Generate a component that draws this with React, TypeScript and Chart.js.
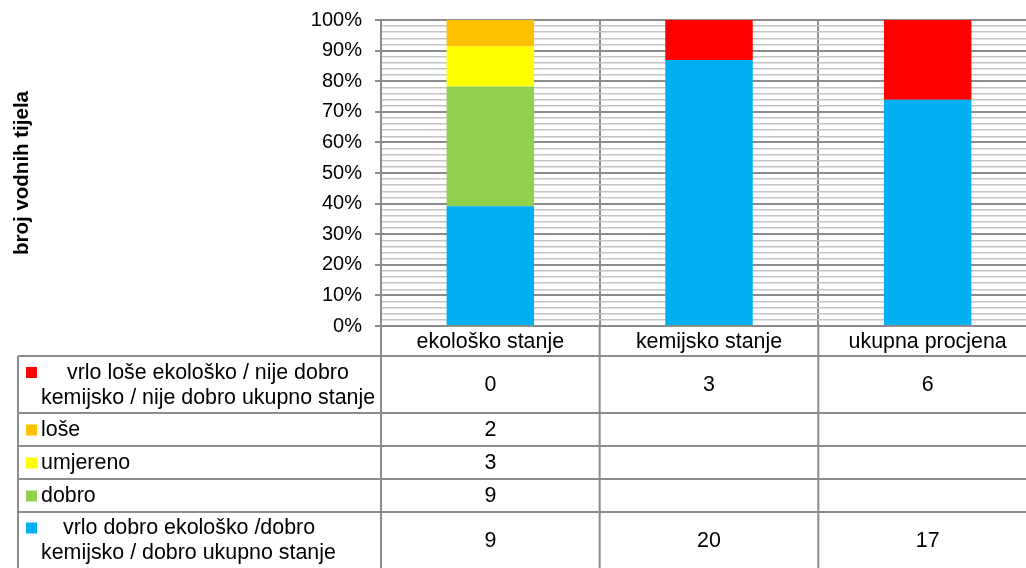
import React, { useEffect, useRef } from "react";
import { Chart, registerables } from "chart.js";

Chart.register(...registerables);

// ---------- data ----------
const categories = ["ekološko stanje", "kemijsko stanje", "ukupna procjena"];

const vrloDobroLabel = "vrlo dobro ekološko /dobro\nkemijsko / dobro ukupno stanje";
const dobroLabel = "dobro";
const umjerenoLabel = "umjereno";
const loseLabel = "loše";
const vrloLoseLabel = "vrlo loše ekološko / nije dobro\nkemijsko / nije dobro ukupno stanje";

const vrloDobro: (number | null)[] = [9, 20, 17];
const dobro: (number | null)[] = [9, null, null];
const umjereno: (number | null)[] = [3, null, null];
const lose: (number | null)[] = [2, null, null];
const vrloLose: (number | null)[] = [0, 3, 6];

const yAxisTitle = "broj vodnih tijela";
const yMajorTicks = [0, 10, 20, 30, 40, 50, 60, 70, 80, 90, 100];

// ---------- helpers ----------
const FONT = '"Liberation Sans", Arial, sans-serif';

const seriesBottomToTop = [
  { label: vrloDobroLabel, values: vrloDobro, color: "#00B0F0" },
  { label: dobroLabel, values: dobro, color: "#92D050" },
  { label: umjerenoLabel, values: umjereno, color: "#FFFF00" },
  { label: loseLabel, values: lose, color: "#FFC000" },
  { label: vrloLoseLabel, values: vrloLose, color: "#FF0000" },
];

const totals = categories.map((_, i) =>
  seriesBottomToTop.reduce((s, d) => s + (d.values[i] ?? 0), 0)
);

const GRID_MAJOR = "#8c8c8c";
const GRID_MINOR = "#c4c4c4";

// table rows (top to bottom) – layout heights
const tableRows = [...seriesBottomToTop].reverse();
const headerH = 30;
const rowHeights = [57, 33, 33, 33, 56];
const firstLineIndent = [26, 0, 0, 0, 22];

const tablePlugin = {
  id: "dataTable",
  afterDraw(chart: any) {
    const ctx: CanvasRenderingContext2D = chart.ctx;
    const xs = chart.scales.x;
    const area = chart.chartArea;
    const n = categories.length;
    const colW = (area.right - area.left) / n;
    const W = chart.width;
    const tableLeft = 18;

    const bounds: number[] = [area.bottom, area.bottom + headerH];
    rowHeights.forEach((h) => bounds.push(bounds[bounds.length - 1] + h));
    const bottom = bounds[bounds.length - 1] + 10;

    ctx.save();
    ctx.strokeStyle = GRID_MAJOR;
    ctx.lineWidth = 2;
    ctx.beginPath();
    for (let r = 1; r < bounds.length - 1; r++) {
      ctx.moveTo(tableLeft, bounds[r]);
      ctx.lineTo(W, bounds[r]);
    }
    ctx.moveTo(tableLeft, bounds[1]);
    ctx.lineTo(tableLeft, bottom);
    for (let i = 0; i <= n; i++) {
      const xp = area.left + i * colW;
      ctx.moveTo(xp, area.bottom);
      ctx.lineTo(xp, bottom);
    }
    ctx.stroke();

    ctx.fillStyle = "#000";
    ctx.font = `21.4px ${FONT}`;
    ctx.textBaseline = "middle";

    ctx.textAlign = "center";
    categories.forEach((c, i) => {
      ctx.fillText(c, xs.getPixelForValue(i), (bounds[0] + bounds[1]) / 2 + 1);
    });

    tableRows.forEach((row, r) => {
      const top = bounds[r + 1];
      const bot = bounds[r + 2];
      const mid = (top + bot) / 2;
      const lines = row.label.split("\n");
      const lineH = 25;
      const firstY = mid - ((lines.length - 1) * lineH) / 2;
      ctx.fillStyle = row.color;
      ctx.fillRect(26, firstY - 5, 11, 11);
      ctx.fillStyle = "#000";
      ctx.textAlign = "left";
      lines.forEach((ln, k) => {
        const x = 41 + (k === 0 ? firstLineIndent[r] : 0);
        ctx.fillText(ln, x, firstY + k * lineH + 1);
      });
      ctx.textAlign = "center";
      row.values.forEach((v, i) => {
        if (v === null || v === undefined) return;
        ctx.fillText(String(v), xs.getPixelForValue(i), mid + 1);
      });
    });
    ctx.restore();
  },
};

export default function App() {
  const ref = useRef<HTMLCanvasElement>(null);

  useEffect(() => {
    if (!ref.current) return;
    const chart = new Chart(ref.current, {
      type: "bar",
      data: {
        labels: categories,
        datasets: seriesBottomToTop.map((s) => ({
          label: s.label,
          data: s.values.map((v, i) => (v === null ? null : (v / totals[i]) * 100)),
          backgroundColor: s.color,
          borderWidth: 0,
          barPercentage: 0.4,
          categoryPercentage: 1,
        })),
      },
      options: {
        animation: false,
        responsive: false,
        devicePixelRatio: 1,
        layout: { padding: { top: 20, right: 9, bottom: 274, left: 0 } },
        plugins: { legend: { display: false }, tooltip: { enabled: false } },
        scales: {
          x: {
            stacked: true,
            offset: true,
            ticks: { display: false },
            grid: { color: GRID_MAJOR, lineWidth: 2, drawTicks: false, offset: true },
            border: { display: true, color: GRID_MAJOR, width: 2 },
            afterFit: (s: any) => {
              s.height = 0;
              s.paddingLeft = 0;
              s.paddingRight = 0;
            },
          },
          y: {
            stacked: true,
            min: 0,
            max: 100,
            ticks: {
              stepSize: 2,
              autoSkip: false,
              maxTicksLimit: 200,
              padding: 13,
              color: "#000",
              font: { family: FONT, size: 20 },
              callback: (v: any) => (yMajorTicks.includes(Number(v)) ? `${v}%` : ""),
            },
            grid: {
              tickLength: 6,
              color: (c: any) =>
                c.tick && yMajorTicks.includes(c.tick.value) ? GRID_MAJOR : GRID_MINOR,
              lineWidth: (c: any) =>
                c.tick && yMajorTicks.includes(c.tick.value) ? 2 : 1.5,
              tickColor: (c: any) =>
                c.tick && yMajorTicks.includes(c.tick.value) ? GRID_MAJOR : "rgba(0,0,0,0)",
            },
            border: { display: true, color: GRID_MAJOR, width: 2 },
            title: {
              display: true,
              text: yAxisTitle,
              color: "#000",
              font: { family: FONT, size: 20.5, weight: "bold" },
              padding: { top: 10, bottom: 0 },
            },
            afterFit: (s: any) => {
              s.width = 381;
              s.paddingTop = 0;
              s.paddingBottom = 0;
            },
          },
        },
      },
      plugins: [tablePlugin],
    } as any);
    return () => chart.destroy();
  }, []);

  return (
    <div
      style={{
        position: "fixed",
        left: 0,
        top: 0,
        width: 1026,
        height: 568,
        overflow: "hidden",
        background: "#fff",
      }}
    >
      <canvas
        ref={ref}
        width={1046}
        height={600}
        style={{ display: "block", width: 1046, height: 600 }}
      />
    </div>
  );
}
